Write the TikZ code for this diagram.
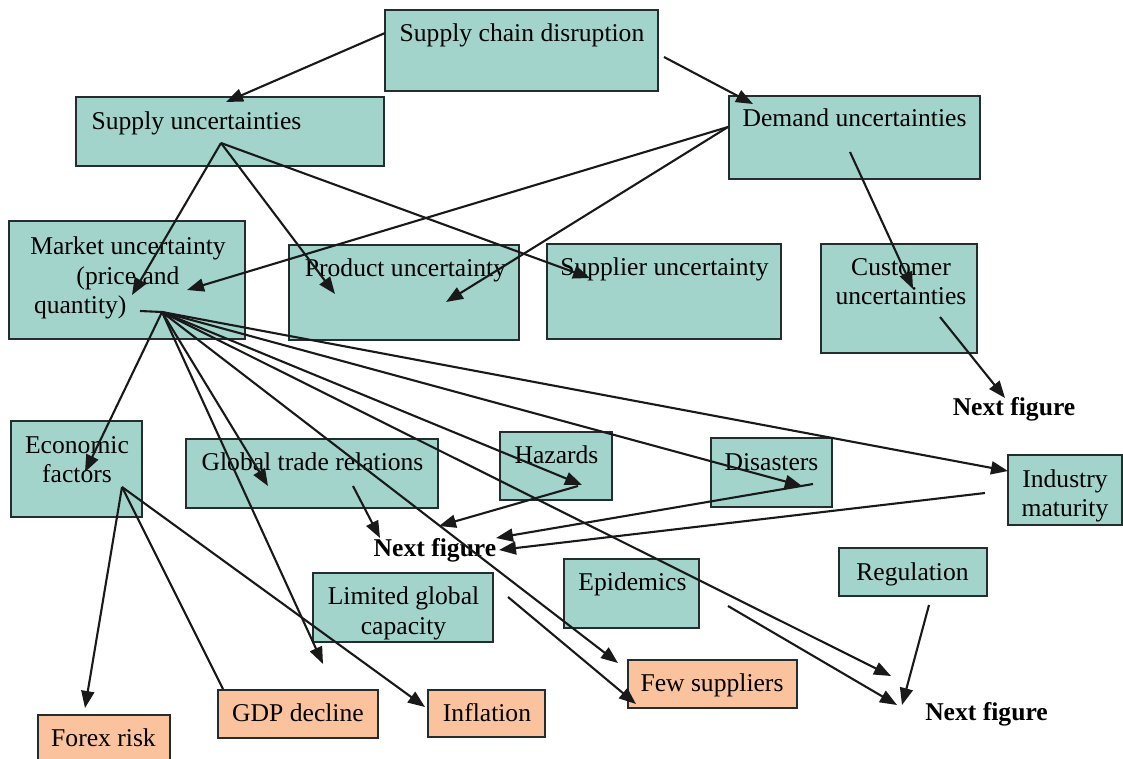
\documentclass[tikz,border=0pt]{standalone}
\usepackage{fontspec}
\setmainfont{Liberation Serif}
\usetikzlibrary{arrows.meta}
\definecolor{boxteal}{RGB}{163,212,203}
\definecolor{boxpeach}{RGB}{250,194,157}
\definecolor{edgeline}{RGB}{35,45,45}
\begin{document}
\begin{tikzpicture}[x=1pt,y=-1pt,
  tbox/.style={draw=edgeline, line width=2pt, fill=boxteal, anchor=north west,
    inner sep=0pt, outer sep=0pt},
  pbox/.style={tbox, fill=boxpeach},
  lbl/.style={inner sep=0pt, text height=17pt, text depth=5.5pt, yshift=-3pt,
    font=\fontsize{25.6pt}{29.5pt}\selectfont, align=center},
  lbltwo/.style={lbl, text height=46.5pt},
  lblthree/.style={lbl, text height=76pt},
  nf/.style={lbl, font=\fontsize{25.6pt}{29.5pt}\selectfont\bfseries},
  link/.style={line width=2.1pt, draw=black!90, -{Triangle[length=17pt,width=13pt]}},
  plain/.style={line width=2.1pt, draw=black!90},
]
\useasboundingbox (0,0) rectangle (1123,759);
\fill[white] (0,0) rectangle (1123,759);

% ---- boxes ----
\node[tbox, minimum width=273pt, minimum height=81pt]  (scd)  at (385,10)  {};
\node[tbox, minimum width=308pt, minimum height=69pt]  (sup)  at (76,97)   {};
\node[tbox, minimum width=251pt, minimum height=83pt]  (dem)  at (729,96)  {};
\node[tbox, minimum width=236pt, minimum height=118pt] (mkt)  at (9,221)   {};
\node[tbox, minimum width=230pt, minimum height=95pt]  (prod) at (289,245) {};
\node[tbox, minimum width=234pt, minimum height=95pt]  (supl) at (547,244) {};
\node[tbox, minimum width=156pt, minimum height=109pt] (cust) at (821,244) {};
\node[tbox, minimum width=131pt, minimum height=96pt]  (eco)  at (11,421)  {};
\node[tbox, minimum width=252pt, minimum height=69pt]  (gtr)  at (186,439) {};
\node[tbox, minimum width=112pt, minimum height=68pt]  (haz)  at (500,432) {};
\node[tbox, minimum width=121pt, minimum height=69pt]  (dis)  at (711,438) {};
\node[tbox, minimum width=114pt, minimum height=70pt]  (ind)  at (1008,455) {};
\node[tbox, minimum width=180pt, minimum height=69pt]  (lgc)  at (313,573) {};
\node[tbox, minimum width=135pt, minimum height=69pt]  (epi)  at (564,559) {};
\node[tbox, minimum width=148pt, minimum height=48pt]  (reg)  at (839,548) {};
\node[pbox, minimum width=169pt, minimum height=48pt]  (few)  at (628,660) {};
\node[pbox, minimum width=132pt, minimum height=60pt]  (fx)   at (38,715)  {};
\node[pbox, minimum width=160pt, minimum height=48pt]  (gdp)  at (218,690) {};
\node[pbox, minimum width=117pt, minimum height=47pt]  (inf)  at (428,690) {};

% ---- texts ----
\node[lbl] (scdT)  at (522,33)    {Supply chain disruption};
\node[lbl] (supT)  at (196.5,121) {Supply uncertainties};
\node[lbl] (demT)  at (854.5,118) {Demand uncertainties};
\node[lblthree] (mktT) at (128,275.5) {Market uncertainty\\(price and\\\makebox[188pt][l]{quantity)}};
\node[lbl] (prodT) at (405.5,268) {Product uncertainty};
\node[lbl] (suplT) at (664.5,267) {Supplier uncertainty};
\node[lbltwo] (custT) at (901,281) {Customer\\uncertainties};
\node[lbltwo] (ecoT)  at (77,459)  {Economic\\factors};
\node[lbl] (gtrT)  at (312.5,462) {Global trade relations};
\node[lbl] (hazT)  at (556.5,455) {Hazards};
\node[lbl] (disT)  at (771.5,462) {Disasters};
\node[lbltwo] (indT)  at (1065,493) {Industry\\maturity};
\node[lbltwo] (lgcT)  at (403.5,610.5) {Limited global\\capacity};
\node[lbl] (epiT)  at (632.5,582) {Epidemics};
\node[lbl] (regT)  at (912.5,572) {Regulation};
\node[lbl] (fewT)  at (712,683)   {Few suppliers};
\node[lbl] (fxT)   at (103.5,738) {Forex risk};
\node[lbl] (gdpT)  at (298,713)   {GDP decline};
\node[lbl] (infT)  at (487,713)   {Inflation};
\node[nf]  (nfA)   at (1014,407)  {Next figure};
\node[nf]  (nfB)   at (435,548)   {Next figure};
\node[nf]  (nfC)   at (986.5,712) {Next figure};

% ---- connector end points ----
\coordinate (scdL)  at (385,33);
\coordinate (scdR)  at (664,57);
\coordinate (supIn) at (226,102);
\coordinate (demIn) at (753,104);
\coordinate (supO)  at (221,143);
\coordinate (demO)  at (728,127);
\coordinate (demD)  at (850,152);
\coordinate (mktInA) at (132,295);
\coordinate (mktInB) at (187,290);
\coordinate (prodInA) at (335,294);
\coordinate (prodInB) at (446,302);
\coordinate (suplIn) at (590,278);
\coordinate (custIn) at (913,289);
\coordinate (custO)  at (940,317);
\coordinate (nfAIn)  at (1005,398);
\coordinate (mktStub) at (140,311);
\coordinate (mktO)   at (162,312);
\coordinate (ecoIn)  at (85,472);
\coordinate (gtrIn)  at (268,486);
\coordinate (gdpAbove) at (323,664);
\coordinate (hazIn)  at (582,485);
\coordinate (disIn)  at (802,486);
\coordinate (indIn)  at (1008,471);
\coordinate (fewInA) at (618,663);
\coordinate (nfCInA) at (891,676);
\coordinate (ecoO)   at (122,487);
\coordinate (fxIn)   at (85,708);
\coordinate (gdpCorner) at (223,689);
\coordinate (infIn)  at (425,707);
\coordinate (gtrO)   at (353,486);
\coordinate (nfBInA) at (380,538);
\coordinate (hazO)   at (578,486);
\coordinate (nfBInB) at (439,526);
\coordinate (disO)   at (813,484);
\coordinate (nfBInC) at (496,538);
\coordinate (indO)   at (985,493);
\coordinate (nfBInD) at (499,550);
\coordinate (lgcO)   at (508,597);
\coordinate (fewInB) at (636,704);
\coordinate (epiO)   at (728,606);
\coordinate (nfCInB) at (897,705);
\coordinate (regO)   at (929,605);
\coordinate (nfCInC) at (902,705);

% ---- connectors ----
\draw[link] (scdL) -- (supIn);
\draw[link] (scdR) -- (demIn);
\draw[link] (supO) -- (mktInA);
\draw[link] (supO) -- (prodInA);
\draw[link] (supO) -- (suplIn);
\draw[link] (demO) -- (mktInB);
\draw[link] (demO) -- (prodInB);
\draw[link] (demD) -- (custIn);
\draw[link] (custO) -- (nfAIn);
\draw[plain] (mktStub) -- (mktO);
\draw[link] (mktO) -- (ecoIn);
\draw[link] (mktO) -- (gtrIn);
\draw[link] (mktO) -- (gdpAbove);
\draw[link] (mktO) -- (hazIn);
\draw[link] (mktO) -- (disIn);
\draw[link] (mktO) -- (indIn);
\draw[link] (mktO) -- (fewInA);
\draw[link] (mktO) -- (nfCInA);
\draw[link] (ecoO) -- (fxIn);
\draw[plain] (ecoO) -- (gdpCorner);
\draw[link] (ecoO) -- (infIn);
\draw[link] (gtrO) -- (nfBInA);
\draw[link] (hazO) -- (nfBInB);
\draw[link] (disO) -- (nfBInC);
\draw[link] (indO) -- (nfBInD);
\draw[link] (lgcO) -- (fewInB);
\draw[link] (epiO) -- (nfCInB);
\draw[link] (regO) -- (nfCInC);
\end{tikzpicture}
\end{document}
